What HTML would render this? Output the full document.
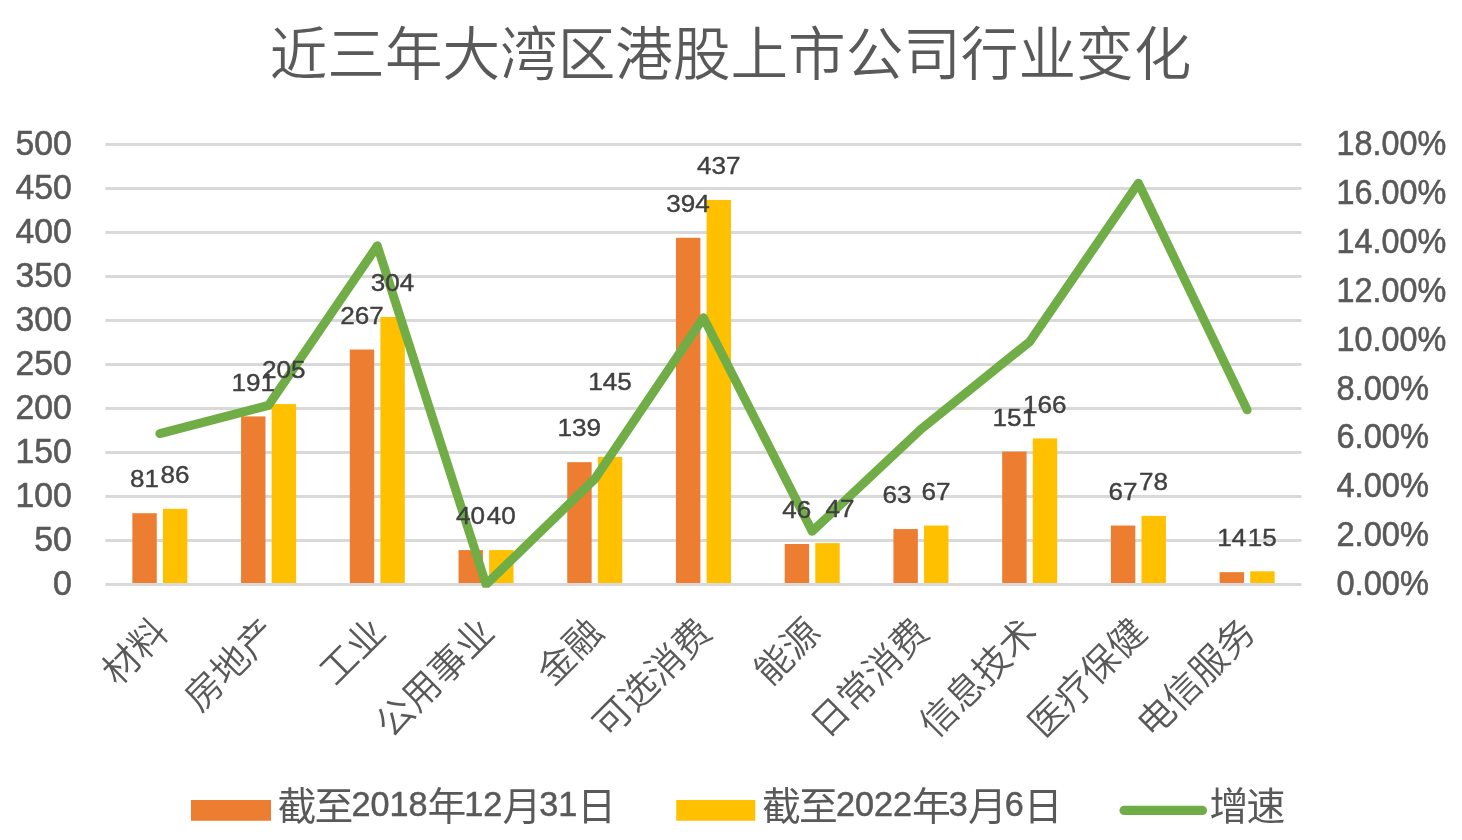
<!DOCTYPE html>
<html lang="zh-CN"><head><meta charset="utf-8"><title>近三年大湾区港股上市公司行业变化</title>
<style>html,body{margin:0;padding:0;background:#fff}svg{display:block}text{font-family:"Liberation Sans", "Noto Sans CJK SC", sans-serif}</style></head><body>
<svg width="1462" height="840" viewBox="0 0 1462 840">
<rect width="1462" height="840" fill="#fff"/>
<text x="730.5" y="74.5" font-size="57.6" fill="#595959" text-anchor="middle" font-weight="350">近三年大湾区港股上市公司行业变化</text>
<g stroke="#D9D9D9" stroke-width="3" fill="none">
<line x1="105.5" y1="540.50" x2="1301.5" y2="540.50"/>
<line x1="105.5" y1="496.50" x2="1301.5" y2="496.50"/>
<line x1="105.5" y1="452.50" x2="1301.5" y2="452.50"/>
<line x1="105.5" y1="408.50" x2="1301.5" y2="408.50"/>
<line x1="105.5" y1="364.50" x2="1301.5" y2="364.50"/>
<line x1="105.5" y1="320.50" x2="1301.5" y2="320.50"/>
<line x1="105.5" y1="276.50" x2="1301.5" y2="276.50"/>
<line x1="105.5" y1="232.50" x2="1301.5" y2="232.50"/>
<line x1="105.5" y1="188.50" x2="1301.5" y2="188.50"/>
<line x1="105.5" y1="144.50" x2="1301.5" y2="144.50"/>
</g>
<g fill="#ED7D31">
<rect x="132.35" y="513.22" width="24.40" height="71.28"/>
<rect x="241.08" y="416.42" width="24.40" height="168.08"/>
<rect x="349.80" y="349.54" width="24.40" height="234.96"/>
<rect x="458.53" y="550.09" width="24.40" height="34.41"/>
<rect x="567.26" y="462.18" width="24.40" height="122.32"/>
<rect x="675.99" y="237.78" width="24.40" height="346.72"/>
<rect x="784.71" y="544.02" width="24.40" height="40.48"/>
<rect x="893.44" y="529.06" width="24.40" height="55.44"/>
<rect x="1002.17" y="451.62" width="24.40" height="132.88"/>
<rect x="1110.90" y="525.54" width="24.40" height="58.96"/>
<rect x="1219.62" y="572.18" width="24.40" height="12.32"/>
</g>
<g fill="#FFC000">
<rect x="162.95" y="508.82" width="24.40" height="75.68"/>
<rect x="271.68" y="404.10" width="24.40" height="180.40"/>
<rect x="380.40" y="316.98" width="24.40" height="267.52"/>
<rect x="489.13" y="550.09" width="24.40" height="34.41"/>
<rect x="597.86" y="456.90" width="24.40" height="127.60"/>
<rect x="706.59" y="199.94" width="24.40" height="384.56"/>
<rect x="815.31" y="543.14" width="24.40" height="41.36"/>
<rect x="924.04" y="525.54" width="24.40" height="58.96"/>
<rect x="1032.77" y="438.42" width="24.40" height="146.08"/>
<rect x="1141.50" y="515.86" width="24.40" height="68.64"/>
<rect x="1250.22" y="571.30" width="24.40" height="13.20"/>
</g>
<line x1="105.5" y1="584.50" x2="1301.5" y2="584.50" stroke="#D9D9D9" stroke-width="3"/>
<clipPath id="pc"><rect x="0" y="0" width="1462" height="587.8"/></clipPath>
<polyline clip-path="url(#pc)" points="159.86,433.61 268.59,405.33 377.32,245.76 486.05,584.50 594.77,478.98 703.50,317.72 812.23,531.36 920.95,429.30 1029.68,341.67 1138.41,183.17 1247.14,409.90" fill="none" stroke="#70AD47" stroke-width="8.9" stroke-linecap="round" stroke-linejoin="round"/>
<g font-size="24.8" fill="#404040" stroke="#404040" stroke-width="0.4" text-anchor="middle">
<text x="144.45" y="487.42" textLength="29.0" lengthAdjust="spacingAndGlyphs">81</text>
<text x="253.18" y="390.62" textLength="43.5" lengthAdjust="spacingAndGlyphs">191</text>
<text x="361.90" y="323.74" textLength="43.5" lengthAdjust="spacingAndGlyphs">267</text>
<text x="470.63" y="524.29" textLength="29.0" lengthAdjust="spacingAndGlyphs">40</text>
<text x="579.36" y="436.38" textLength="43.5" lengthAdjust="spacingAndGlyphs">139</text>
<text x="688.09" y="211.98" textLength="43.5" lengthAdjust="spacingAndGlyphs">394</text>
<text x="796.81" y="518.22" textLength="29.0" lengthAdjust="spacingAndGlyphs">46</text>
<text x="896.94" y="503.26" textLength="29.0" lengthAdjust="spacingAndGlyphs">63</text>
<text x="1014.27" y="425.82" textLength="43.5" lengthAdjust="spacingAndGlyphs">151</text>
<text x="1123.00" y="499.74" textLength="29.0" lengthAdjust="spacingAndGlyphs">67</text>
<text x="1231.72" y="546.38" textLength="29.0" lengthAdjust="spacingAndGlyphs">14</text>
<text x="175.05" y="483.02" textLength="29.0" lengthAdjust="spacingAndGlyphs">86</text>
<text x="283.78" y="378.30" textLength="43.5" lengthAdjust="spacingAndGlyphs">205</text>
<text x="392.50" y="291.18" textLength="43.5" lengthAdjust="spacingAndGlyphs">304</text>
<text x="501.23" y="524.29" textLength="29.0" lengthAdjust="spacingAndGlyphs">40</text>
<text x="609.96" y="389.60" textLength="43.5" lengthAdjust="spacingAndGlyphs">145</text>
<text x="718.69" y="174.14" textLength="43.5" lengthAdjust="spacingAndGlyphs">437</text>
<text x="840.01" y="517.34" textLength="29.0" lengthAdjust="spacingAndGlyphs">47</text>
<text x="936.14" y="499.74" textLength="29.0" lengthAdjust="spacingAndGlyphs">67</text>
<text x="1044.87" y="412.62" textLength="43.5" lengthAdjust="spacingAndGlyphs">166</text>
<text x="1153.60" y="490.06" textLength="29.0" lengthAdjust="spacingAndGlyphs">78</text>
<text x="1262.32" y="545.50" textLength="29.0" lengthAdjust="spacingAndGlyphs">15</text>
</g>
<g font-size="34.4" fill="#595959" stroke="#595959" stroke-width="0.6" text-anchor="end">
<text x="71.8" y="595.10" textLength="18.8" lengthAdjust="spacingAndGlyphs">0</text>
<text x="71.8" y="551.10" textLength="37.5" lengthAdjust="spacingAndGlyphs">50</text>
<text x="71.8" y="507.10" textLength="56.2" lengthAdjust="spacingAndGlyphs">100</text>
<text x="71.8" y="463.10" textLength="56.2" lengthAdjust="spacingAndGlyphs">150</text>
<text x="71.8" y="419.10" textLength="56.2" lengthAdjust="spacingAndGlyphs">200</text>
<text x="71.8" y="375.10" textLength="56.2" lengthAdjust="spacingAndGlyphs">250</text>
<text x="71.8" y="331.10" textLength="56.2" lengthAdjust="spacingAndGlyphs">300</text>
<text x="71.8" y="287.10" textLength="56.2" lengthAdjust="spacingAndGlyphs">350</text>
<text x="71.8" y="243.10" textLength="56.2" lengthAdjust="spacingAndGlyphs">400</text>
<text x="71.8" y="199.10" textLength="56.2" lengthAdjust="spacingAndGlyphs">450</text>
<text x="71.8" y="155.10" textLength="56.2" lengthAdjust="spacingAndGlyphs">500</text>
</g>
<g font-size="34.4" fill="#595959" stroke="#595959" stroke-width="0.6" text-anchor="start">
<text x="1336.5" y="595.10" textLength="92.4" lengthAdjust="spacingAndGlyphs">0.00%</text>
<text x="1336.5" y="546.21" textLength="92.4" lengthAdjust="spacingAndGlyphs">2.00%</text>
<text x="1336.5" y="497.32" textLength="92.4" lengthAdjust="spacingAndGlyphs">4.00%</text>
<text x="1336.5" y="448.43" textLength="92.4" lengthAdjust="spacingAndGlyphs">6.00%</text>
<text x="1336.5" y="399.54" textLength="92.4" lengthAdjust="spacingAndGlyphs">8.00%</text>
<text x="1336.5" y="350.66" textLength="109.8" lengthAdjust="spacingAndGlyphs">10.00%</text>
<text x="1336.5" y="301.77" textLength="109.8" lengthAdjust="spacingAndGlyphs">12.00%</text>
<text x="1336.5" y="252.88" textLength="109.8" lengthAdjust="spacingAndGlyphs">14.00%</text>
<text x="1336.5" y="203.99" textLength="109.8" lengthAdjust="spacingAndGlyphs">16.00%</text>
<text x="1336.5" y="155.10" textLength="109.8" lengthAdjust="spacingAndGlyphs">18.00%</text>
</g>
<g font-size="37.1" fill="#595959" text-anchor="end" font-weight="350">
<text transform="translate(170.26 634.60) rotate(-45)">材料</text>
<text transform="translate(278.99 634.60) rotate(-45)">房地产</text>
<text transform="translate(387.72 634.60) rotate(-45)">工业</text>
<text transform="translate(496.45 634.60) rotate(-45)">公用事业</text>
<text transform="translate(605.17 634.60) rotate(-45)">金融</text>
<text transform="translate(713.90 634.60) rotate(-45)">可选消费</text>
<text transform="translate(822.63 634.60) rotate(-45)">能源</text>
<text transform="translate(931.35 634.60) rotate(-45)">日常消费</text>
<text transform="translate(1040.08 634.60) rotate(-45)">信息技术</text>
<text transform="translate(1148.81 634.60) rotate(-45)">医疗保健</text>
<text transform="translate(1257.54 634.60) rotate(-45)">电信服务</text>
</g>
<rect x="191" y="800" width="80" height="20.75" fill="#ED7D31"/>
<rect x="676.25" y="800" width="79" height="20.75" fill="#FFC000"/>
<line x1="1124.1" y1="810.4" x2="1202.4" y2="810.4" stroke="#70AD47" stroke-width="9.25" stroke-linecap="round"/>
<text x="277.6" y="820.3" font-size="38.8" fill="#595959"><tspan dy="0.0" letter-spacing="-1.90">截至</tspan><tspan dy="-4.0" font-size="34.2" stroke="#595959" stroke-width="0.5">2018</tspan><tspan dy="4.0" letter-spacing="-1.90">年</tspan><tspan dy="-4.0" font-size="34.2" stroke="#595959" stroke-width="0.5">12</tspan><tspan dy="4.0" letter-spacing="-1.90">月</tspan><tspan dy="-4.0" font-size="34.2" stroke="#595959" stroke-width="0.5">31</tspan><tspan dy="4.0" letter-spacing="-1.90">日</tspan></text>
<text x="762.1" y="820.3" font-size="38.8" fill="#595959"><tspan dy="0.0" letter-spacing="-1.90">截至</tspan><tspan dy="-4.0" font-size="34.2" stroke="#595959" stroke-width="0.5">2022</tspan><tspan dy="4.0" letter-spacing="-1.90">年</tspan><tspan dy="-4.0" font-size="34.2" stroke="#595959" stroke-width="0.5">3</tspan><tspan dy="4.0" letter-spacing="-1.90">月</tspan><tspan dy="-4.0" font-size="34.2" stroke="#595959" stroke-width="0.5">6</tspan><tspan dy="4.0" letter-spacing="-1.90">日</tspan></text>
<text x="1209.6" y="820.3" font-size="38.8" fill="#595959"><tspan dy="0.0" letter-spacing="-1.90">增速</tspan></text>
</svg></body></html>
